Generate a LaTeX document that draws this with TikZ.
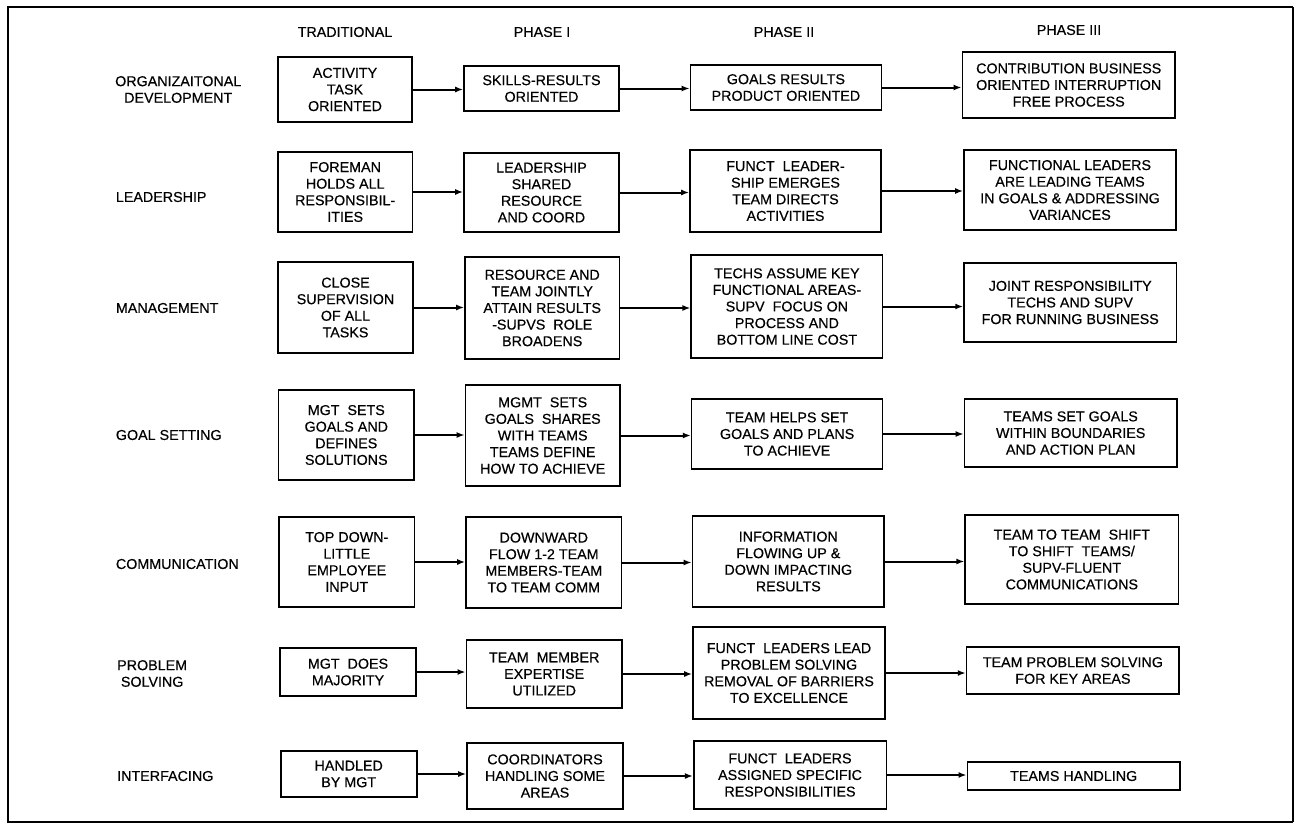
\documentclass[tikz,border=0pt]{standalone}
\usepackage{fontspec}
\setmainfont{Liberation Sans}[FakeBold=0.4]
\usetikzlibrary{arrows.meta}

\tikzset{
  txt/.style={font=\fontsize{14.3}{16.6}\selectfont},
  box/.style={txt, draw, line width=1.6pt, align=center, inner sep=1pt},
  head/.style={txt},
  rowlabel/.style={txt, anchor=west, align=center, inner sep=0pt},
  flow/.style={line width=2pt, -{Latex[length=8pt,width=6pt]}},
}
% a box given by centre, width and height (all in pixels of the page)
\newcommand{\stagebox}[6]{%
  \node[box, minimum width=#4pt, minimum height=#5pt] (#1) at (#2,#3) {#6};}

\begin{document}
\begin{tikzpicture}[x=1pt,y=-1pt]
\useasboundingbox (0,0) rectangle (1298,825);

% frame
\draw[line width=2.4pt] (1293,7) -- (8,7) -- (8,822) -- (1293,822);
\draw[line width=1.2pt] (1293,7) -- (1293,822);

% column headings
\node[head] (hT)   at (345,32)  {TRADITIONAL};
\node[head] (hP1)  at (542,32)  {PHASE I};
\node[head] (hP2)  at (784,32)  {PHASE II};
\node[head] (hP3)  at (1069,30) {PHASE III};

% row labels
\node[rowlabel] (rOD) at (115,89.5) {ORGANIZAITONAL\\DEVELOPMENT};
\node[rowlabel] (rLE) at (115.7,197) {LEADERSHIP};
\node[rowlabel] (rMA) at (115.7,308) {MANAGEMENT};
\node[rowlabel] (rGS) at (115.7,435) {GOAL SETTING};
\node[rowlabel] (rCO) at (115.7,564) {COMMUNICATION};
\node[rowlabel] (rPS) at (117,673.5) {PROBLEM\\SOLVING};
\node[rowlabel] (rIN) at (117,776) {INTERFACING};

% traditional
\stagebox{a1}{345}{89.5}{134}{65}{ACTIVITY\\TASK\\ORIENTED}
\stagebox{a2}{345.2}{192}{134.5}{80}{FOREMAN\\HOLDS ALL\\RESPONSIBIL-\\ITIES}
\stagebox{a3}{345.5}{307.5}{135}{91}{CLOSE\\SUPERVISION\\OF ALL\\TASKS}
\stagebox{a4}{346.3}{435}{135.4}{90}{MGT\ \ SETS\\GOALS AND\\DEFINES\\SOLUTIONS}
\stagebox{a5}{346.8}{562}{135.6}{90}{TOP DOWN-\\LITTLE\\EMPLOYEE\\INPUT}
\stagebox{a6}{348}{672}{136}{48}{MGT\ \ DOES\\MAJORITY}
\stagebox{a7}{348.7}{774}{136}{46}{HANDLED\\BY MGT}

% phase I
\stagebox{b1}{541.5}{88.5}{155}{45}{SKILLS-RESULTS\\ORIENTED}
\stagebox{b2}{541.5}{192.5}{155}{79}{LEADERSHIP\\SHARED\\RESOURCE\\AND COORD}
\stagebox{b3}{542.2}{308}{154.5}{102}{RESOURCE AND\\TEAM JOINTLY\\ATTAIN RESULTS\\-SUPVS\ \ ROLE\\BROADENS}
\stagebox{b4}{542.7}{435.5}{154.5}{101}{MGMT\ \ SETS\\GOALS\ \ SHARES\\WITH TEAMS\\TEAMS DEFINE\\HOW TO ACHIEVE}
\stagebox{b5}{543.8}{562.5}{155.6}{91}{DOWNWARD\\FLOW 1-2 TEAM\\MEMBERS-TEAM\\TO TEAM COMM}
\stagebox{b6}{544.2}{674}{155.7}{68}{TEAM\ \ MEMBER\\EXPERTISE\\UTILIZED}
\stagebox{b7}{545}{776}{156}{66}{COORDINATORS\\HANDLING SOME\\AREAS}

% phase II
\stagebox{c1}{785.9}{87.5}{191}{45}{GOALS RESULTS\\PRODUCT ORIENTED}
\stagebox{c2}{785.5}{191}{191}{82}{FUNCT\ \ LEADER-\\SHIP EMERGES\\TEAM DIRECTS\\ACTIVITIES}
\stagebox{c3}{786.9}{306.5}{191.4}{103}{TECHS ASSUME KEY\\FUNCTIONAL AREAS-\\SUPV\ \ FOCUS ON\\PROCESS AND\\BOTTOM LINE COST}
\stagebox{c4}{787.1}{434}{191}{70}{TEAM HELPS SET\\GOALS AND PLANS\\TO ACHIEVE}
\stagebox{c5}{788.3}{561.5}{191.7}{91}{INFORMATION\\FLOWING UP \&\\DOWN IMPACTING\\RESULTS}
\stagebox{c6}{789}{673}{192}{92}{FUNCT\ \ LEADERS LEAD\\PROBLEM SOLVING\\REMOVAL OF BARRIERS\\TO EXCELLENCE}
\stagebox{c7}{790}{775}{192.6}{68}{FUNCT\ \ LEADERS\\ASSIGNED SPECIFIC\\RESPONSIBILITIES}

% phase III
\stagebox{d1}{1068.7}{85}{212.7}{66}{CONTRIBUTION BUSINESS\\ORIENTED INTERRUPTION\\FREE PROCESS}
\stagebox{d2}{1070}{190}{212}{80}{FUNCTIONAL LEADERS\\ARE LEADING TEAMS\\IN GOALS \& ADDRESSING\\VARIANCES}
\stagebox{d3}{1070.2}{302.5}{212.3}{79}{JOINT RESPONSIBILITY\\TECHS AND SUPV\\FOR RUNNING BUSINESS}
\stagebox{d4}{1070.7}{433}{212.6}{68}{TEAMS SET GOALS\\WITHIN BOUNDARIES\\AND ACTION PLAN}
\stagebox{d5}{1071.8}{559.5}{213.2}{89}{TEAM TO TEAM\ \ SHIFT\\TO SHIFT\ \ TEAMS/\\SUPV-FLUENT\\COMMUNICATIONS}
\stagebox{d6}{1072.9}{670.5}{212.7}{47}{TEAM PROBLEM SOLVING\\FOR KEY AREAS}
\stagebox{d7}{1073.7}{776}{212.7}{28}{TEAMS HANDLING}

% progression arrows along each row
\foreach \r in {1,...,7}{
  \draw[flow] (a\r.east) -- (a\r.east -| b\r.west);
  \draw[flow] (b\r.east) -- (b\r.east -| c\r.west);
  \draw[flow] (c\r.east) -- (c\r.east -| d\r.west);
}
\end{tikzpicture}
\end{document}
